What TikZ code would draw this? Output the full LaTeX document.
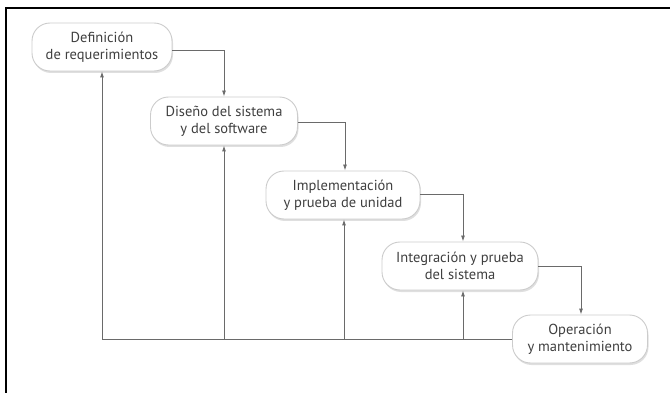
\documentclass[tikz,border=0pt]{standalone}
\usepackage{fontspec}
\setmainfont{PT Sans}
\usetikzlibrary{shadows,arrows.meta}
\definecolor{txt}{HTML}{3F3F3F}
\definecolor{ln}{HTML}{6A6A6A}
\tikzset{
  phase/.style={draw=black!20, line width=0.9pt, fill=white, rounded corners=18pt,
    minimum height=48pt, inner sep=2pt, align=center, text=txt, font=\fontsize{14.5}{17}\selectfont,
    drop shadow={shadow xshift=1pt, shadow yshift=-2pt, fill=black!25, opacity=0.5}},
  flow/.style={draw=ln, line width=0.9pt, -{Latex[length=6pt,width=4pt]}},
  back/.style={draw=ln, line width=0.9pt}
}
\begin{document}
\begin{tikzpicture}[x=1pt,y=-1pt]
\useasboundingbox (0,0) rectangle (670,393);
\draw[line width=1.6pt] (6,393) -- (6,8) -- (670,8);
\node[phase, minimum width=140pt] (n1) at (102,47) {Definición\\de requerimientos};
\node[phase, minimum width=147pt] (n2) at (224,121) {Diseño del sistema\\y del software};
\node[phase, minimum width=154pt] (n3) at (343,195) {Implementación\\y prueba de unidad};
\node[phase, minimum width=156pt] (n4) at (460,266) {Integración y prueba\\del sistema};
\node[phase, minimum width=135pt] (n5) at (580,339) {Operación\\y mantenimiento};
\draw[flow] (n1.east |- 0,50) -| (n2.north -| 224,0);
\draw[flow] (n2.east |- 0,122) -| (n3.north -| 345,0);
\draw[flow] (n3.east |- 0,194) -| (n4.north -| 463,0);
\draw[flow] (n4.east |- 0,266) -| (n5.north -| 581,0);
\coordinate (b1) at (102,339);
\coordinate (b2) at (224,339);
\coordinate (b3) at (344,339);
\coordinate (b4) at (463,339);
\draw[back] (n5.west) -- (b1);
\draw[flow] (b1) -- (n1.south);
\draw[flow] (b2) -- (n2.south);
\draw[flow] (b3) -- (n3.south -| b3);
\draw[flow] (b4) -- (n4.south -| b4);
\end{tikzpicture}
\end{document}
